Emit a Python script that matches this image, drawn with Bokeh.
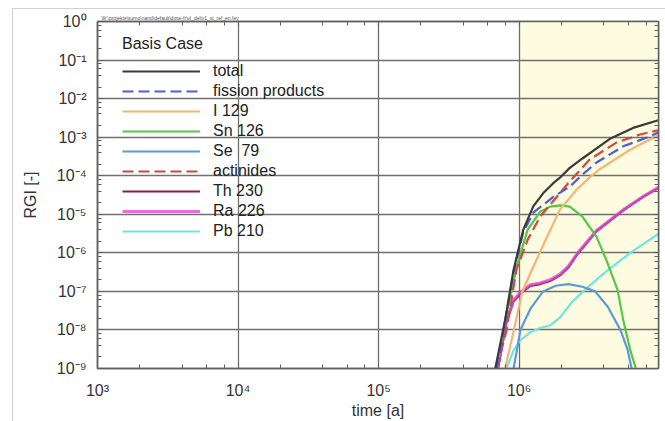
from bokeh.plotting import figure
from bokeh.models import (Range1d, LogAxis, LogTicker, BoxAnnotation, Legend,
                          LegendItem, Title, CustomJSTickFormatter)
from bokeh.embed import file_html
from bokeh.resources import INLINE

# ---------------- data (time in years, RGI dimensionless) ----------------
time_total = [6.76e5, 7.94e5, 9.12e5, 1.07e6, 1.26e6, 1.48e6, 1.74e6, 1.95e6, 2.29e6, 2.82e6, 4.47e6, 6.46e6, 9.77e6]
rgi_total = [1e-9, 1.8e-8, 3.6e-7, 4.0e-6, 1.6e-5, 3.5e-5, 6.3e-5, 8.9e-5, 1.6e-4, 2.8e-4, 9.3e-4, 1.74e-3, 2.75e-3]

time_fission = [6.92e5, 7.94e5, 9.12e5, 1.07e6, 1.26e6, 1.74e6, 2.29e6, 2.82e6, 3.55e6, 5.50e6, 8.13e6, 9.77e6]
rgi_fission = [1e-9, 1.6e-8, 3.2e-7, 3.5e-6, 1.1e-5, 2.8e-5, 5.2e-5, 1.07e-4, 2.2e-4, 5.8e-4, 9.8e-4, 1.32e-3]

time_i129 = [7.94e5, 8.91e5, 1.05e6, 1.23e6, 1.58e6, 1.95e6, 2.57e6, 3.16e6, 3.72e6, 5.89e6, 8.51e6, 9.77e6]
rgi_i129 = [1e-9, 6.3e-9, 9.5e-8, 3.6e-7, 2.6e-6, 1.32e-5, 4.4e-5, 8.9e-5, 1.45e-4, 4.3e-4, 8.7e-4, 1.12e-3]

time_sn126 = [6.92e5, 7.94e5, 9.77e5, 1.15e6, 1.41e6, 1.66e6, 1.95e6, 2.29e6, 2.82e6, 3.55e6, 4.17e6, 5.01e6, 5.50e6, 6.17e6, 6.76e6]
rgi_sn126 = [1e-9, 1.8e-8, 5.5e-7, 4.0e-6, 1.17e-5, 1.58e-5, 1.7e-5, 1.58e-5, 8.7e-6, 2.6e-6, 6.6e-7, 1.1e-7, 1.8e-8, 3.0e-9, 1e-9]

time_se79 = [9.12e5, 9.55e5, 1.02e6, 1.20e6, 1.48e6, 1.82e6, 2.24e6, 2.82e6, 3.47e6, 4.27e6, 5.25e6, 5.89e6, 6.31e6]
rgi_se79 = [1e-9, 2.5e-9, 1.0e-8, 3.5e-8, 1.0e-7, 1.4e-7, 1.55e-7, 1.32e-7, 1.0e-7, 4.0e-8, 1.0e-8, 3.2e-9, 1e-9]

time_actinides = [6.92e5, 8.13e5, 9.55e5, 1.15e6, 1.41e6, 1.86e6, 2.29e6, 3.16e6, 4.90e6, 7.24e6, 9.77e6]
rgi_actinides = [1e-9, 9.8e-9, 3.6e-7, 2.2e-6, 8.7e-6, 2.9e-5, 7.1e-5, 2.6e-4, 7.2e-4, 1.17e-3, 1.51e-3]

time_th230 = [7.08e5, 8.13e5, 9.12e5, 1.02e6, 1.20e6, 1.41e6, 1.66e6, 1.95e6, 2.24e6, 2.63e6, 3.55e6, 5.50e6, 7.59e6, 1.0e7]
rgi_th230 = [1e-9, 1.6e-8, 5.5e-8, 8.7e-8, 1.38e-7, 1.55e-7, 1.86e-7, 2.6e-7, 4.2e-7, 9.8e-7, 3.6e-6, 1.26e-5, 2.8e-5, 5.0e-5]

time_ra226 = [7.0e5, 8.13e5, 9.12e5, 1.02e6, 1.20e6, 1.41e6, 1.66e6, 1.95e6, 2.24e6, 2.63e6, 3.55e6, 5.50e6, 7.59e6, 1.0e7]
rgi_ra226 = [1e-9, 1.8e-8, 6.0e-8, 9.5e-8, 1.48e-7, 1.66e-7, 2.0e-7, 2.8e-7, 4.5e-7, 1.05e-6, 3.8e-6, 1.32e-5, 2.9e-5, 5.2e-5]

time_pb210 = [8.13e5, 9.12e5, 1.02e6, 1.20e6, 1.41e6, 1.66e6, 1.95e6, 2.40e6, 3.02e6, 3.80e6, 4.17e6, 6.17e6, 8.51e6, 1.0e7]
rgi_pb210 = [1e-9, 2.95e-9, 5.4e-9, 8.7e-9, 1.12e-8, 1.32e-8, 2.1e-8, 5.5e-8, 1.2e-7, 2.5e-7, 3.3e-7, 1.0e-6, 2.2e-6, 3.3e-6]

shade_start = 1e6
x_limits = (1e3, 9.8e6)
y_limits = (1e-9, 1.0)

legend_title = "Basis Case"
file_note = "W:\\projekte\\sumo\\nand\\default\\dose-fr\\vl_deliv1_st_ref_en.fey"

FONT = "Liberation Sans"

page_bg = ("linear-gradient(#d2d2d2, #d2d2d2) 12px 8px / 1px 413px no-repeat, "
           "linear-gradient(#d2d2d2, #d2d2d2) 12px 8px / 653px 1px no-repeat, white")

p = figure(width=665, height=421, output_backend="svg", toolbar_location=None,
           x_axis_type="log", y_axis_type="log",
           x_range=Range1d(*x_limits), y_range=Range1d(*y_limits),
           min_border_left=97, min_border_right=7, min_border_top=21, min_border_bottom=53,
           background_fill_color="white", border_fill_alpha=0.0,
           styles={"background": page_bg})
p.outline_line_color = "#606060"
p.outline_line_width = 1.5

sup_js = """
const m = {"0":"\u2070","1":"\u00b9","2":"\u00b2","3":"\u00b3","4":"\u2074","5":"\u2075",
           "6":"\u2076","7":"\u2077","8":"\u2078","9":"\u2079","-":"\u207b"};
const e = Math.round(Math.log10(tick));
return "10" + String(e).split("").map(c => m[c]).join("");
"""

# shaded region
p.add_layout(BoxAnnotation(left=shade_start, fill_color="#fdfbe0", fill_alpha=1.0,
                           line_alpha=0, level="image"))

for ax in (p.xaxis[0], p.yaxis[0]):
    ax.formatter = CustomJSTickFormatter(code=sup_js)
    ax.major_label_text_font = FONT
    ax.major_label_text_font_size = "16px"
    ax.major_label_text_color = "#333333"
    ax.axis_label_text_font = FONT
    ax.axis_label_text_font_size = "16px"
    ax.axis_label_text_font_style = "normal"
    ax.axis_label_text_color = "#333333"
    ax.axis_line_color = "#606060"
    ax.axis_line_width = 1.5
    ax.major_tick_in = 5
    ax.major_tick_out = 0
    ax.minor_tick_in = 4
    ax.minor_tick_out = 0
    ax.major_tick_line_color = "#606060"
    ax.minor_tick_line_color = "#606060"

p.xaxis[0].ticker = LogTicker(desired_num_ticks=5)
p.yaxis[0].ticker = LogTicker(desired_num_ticks=10)
p.xaxis[0].axis_label = "time [a]"
p.yaxis[0].axis_label = "RGI [-]"
p.xaxis[0].major_label_standoff = 13
p.xaxis[0].axis_label_standoff = 0
p.yaxis[0].major_label_standoff = 11
p.yaxis[0].axis_label_standoff = 15

for place, n in (("above", 5), ("right", 10)):
    ax2 = LogAxis(ticker=LogTicker(desired_num_ticks=n),
                  formatter=CustomJSTickFormatter(code=sup_js),
                  major_label_text_font_size="2px", major_label_text_alpha=0.0,
                  major_label_standoff=0,
                  axis_line_color="#606060", axis_line_width=1.5,
                  major_tick_in=5, major_tick_out=0,
                  minor_tick_in=4, minor_tick_out=0,
                  major_tick_line_color="#606060", minor_tick_line_color="#606060")
    p.add_layout(ax2, place)

p.add_layout(Title(text=file_note, text_font_size="5px", text_font=FONT,
                   text_font_style="normal", text_color="#555555",
                   align="left", offset=4, standoff=1), "above")

for g in (p.xgrid[0], p.ygrid[0]):
    g.grid_line_color = "#707070"
    g.grid_line_width = 1.3
    g.grid_line_alpha = 1.0

lw = 2.2
r_pb = p.line(time_pb210, rgi_pb210, line_color="#6ee6e0", line_width=lw)
r_se = p.line(time_se79, rgi_se79, line_color="#5a9bd5", line_width=lw)
r_th = p.line(time_th230, rgi_th230, line_color="#8a1a55", line_width=lw)
r_ra = p.line(time_ra226, rgi_ra226, line_color="#e04ad4", line_width=3.0, line_alpha=0.8)
r_sn = p.line(time_sn126, rgi_sn126, line_color="#55c845", line_width=lw)
r_i = p.line(time_i129, rgi_i129, line_color="#f5b478", line_width=lw)
r_ac = p.line(time_actinides, rgi_actinides, line_color="#d04a3c", line_width=lw,
              line_dash="11 5")
r_fp = p.line(time_fission, rgi_fission, line_color="#4a5ae6", line_width=lw,
              line_dash="11 5")
r_tot = p.line(time_total, rgi_total, line_color="#3a3a3a", line_width=lw)

legend = Legend(items=[
    LegendItem(label="total", renderers=[r_tot]),
    LegendItem(label="fission products", renderers=[r_fp]),
    LegendItem(label="I 129", renderers=[r_i]),
    LegendItem(label="Sn 126", renderers=[r_sn]),
    LegendItem(label="Se  79", renderers=[r_se]),
    LegendItem(label="actinides", renderers=[r_ac]),
    LegendItem(label="Th 230", renderers=[r_th]),
    LegendItem(label="Ra 226", renderers=[r_ra]),
    LegendItem(label="Pb 210", renderers=[r_pb]),
], title=legend_title)
legend.location = (25, 127)
legend.margin = 0
legend.padding = 0
legend.spacing = 0
legend.glyph_width = 78
legend.glyph_height = 20
legend.label_height = 20
legend.label_standoff = 13
legend.label_text_font = FONT
legend.label_text_font_size = "16px"
legend.label_text_color = "#222222"
legend.title_text_font = FONT
legend.title_text_font_size = "16px"
legend.title_text_font_style = "normal"
legend.title_text_color = "#222222"
legend.title_standoff = 8
legend.background_fill_alpha = 0
legend.border_line_alpha = 0
p.add_layout(legend)

open("out.html", "w").write(file_html(p, INLINE))
